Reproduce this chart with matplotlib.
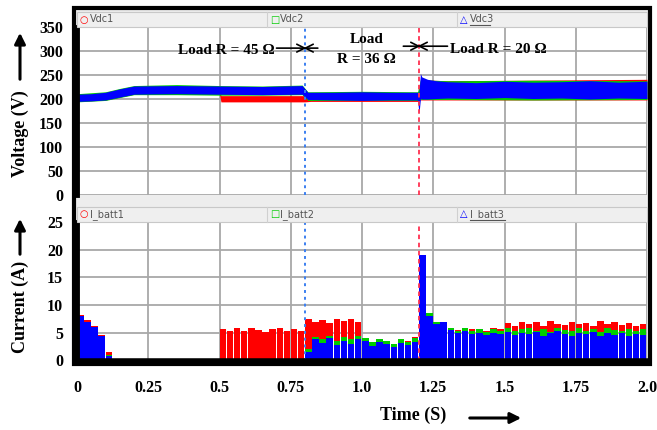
import numpy as np
import matplotlib
matplotlib.use("Agg")
import matplotlib.pyplot as plt
from matplotlib.patches import Rectangle, FancyArrowPatch
from matplotlib.lines import Line2D

# ---- voltage envelopes (V) ----
vdc3_t = [0.0, 0.05, 0.1, 0.15, 0.2, 0.35, 0.5, 0.65, 0.79, 0.81, 0.9, 1.0, 1.1, 1.195,
          1.2, 1.205, 1.21, 1.23, 1.26, 1.3, 1.4, 1.5, 1.6, 1.7, 1.8, 1.9, 2.0]
vdc3_lo = [195, 196, 198, 204, 210, 211, 210, 209, 210, 199, 198, 197, 198, 198,
           170, 201, 200, 200, 201, 202, 201, 203, 201, 202, 200, 202, 201]
vdc3_hi = [210, 211, 214, 221, 227, 228, 227, 226, 228, 214, 214, 215, 214, 214,
           214, 253, 246, 241, 238, 236, 234, 237, 235, 236, 238, 235, 237]

vdc2_t = [0.0, 0.1, 0.15, 0.2, 0.35, 0.5, 0.65, 0.79, 0.81, 1.0, 1.195, 1.205, 1.3, 1.6, 2.0]
vdc2_lo = [194, 197, 203, 209, 209, 208, 208, 209, 197, 197, 197, 199, 199, 198, 199]
vdc2_hi = [211, 215, 222, 228, 230, 228, 227, 229, 215, 216, 215, 240, 238, 239, 238]

vdc1_t = [0.0, 0.1, 0.2, 0.5, 0.505, 0.8, 0.82, 1.2, 1.205, 1.3, 2.0]
vdc1_lo = [195, 198, 210, 210, 194, 194, 195, 195, 198, 198, 198]
vdc1_hi = [208, 212, 225, 225, 207, 207, 210, 210, 240, 238, 241]

spike_v_t = [0.002, 0.002]
spike_v = [40, 205]

# ---- battery currents (A), one value per 25 ms ----
bin_w = 0.025
i_batt3 = [8.0, 7.0, 6.0, 4.5, 0.8] + [0.15] * 27 + \
    [1.5, 3.8, 3.2, 4.0, 2.8, 3.6, 3.0, 3.8,
     3.5, 2.6, 3.4, 3.0, 2.4, 3.2, 2.8, 3.3,
     19.0, 8.0, 6.5, 7.0,
     5.5, 5.0, 5.3, 4.8, 5.0, 4.6, 5.0, 4.7, 5.1, 4.6, 5.0, 4.8, 5.2, 4.5,
     5.0, 5.4, 4.8, 4.4, 5.0, 4.7, 5.1, 4.5, 4.9, 4.6, 5.0, 4.4, 4.8, 4.6]
i_batt2 = [7.5, 6.5, 5.8, 4.0, 1.0] + [0.3] * 27 + \
    [2.0, 4.3, 3.8, 4.5, 3.5, 4.2, 3.8, 4.5,
     4.0, 3.4, 3.8, 3.5, 3.0, 3.8, 3.4, 4.0,
     9.5, 8.5, 7.0, 6.3,
     5.8, 5.4, 5.9, 5.3, 5.6, 5.2, 5.7, 5.4, 5.8, 5.3, 5.6, 5.9, 5.4, 5.7,
     5.2, 5.8, 5.5, 5.3, 5.9, 5.4, 5.6, 5.2, 5.8, 5.5, 5.3, 5.7, 5.4, 5.6]
i_batt1 = [8.2, 7.3, 6.3, 4.6, 1.6] + [0.2] * 15 + \
    [5.6, 5.3, 5.8, 5.4, 5.9, 5.5, 5.2, 5.7, 5.9, 5.4, 5.6, 5.3,
     7.5, 7.0, 7.3, 6.8, 7.4, 7.1, 7.5, 7.0,
     3.0, 2.8, 3.2, 3.0, 2.9, 3.3, 3.6, 4.2,
     9.8, 8.0, 6.8, 6.0,
     5.8, 5.5, 5.9, 5.6, 5.7, 5.4, 5.8, 5.6,
     6.8, 6.3, 7.0, 6.5, 6.9, 6.2, 7.2, 6.6, 6.4, 7.0,
     6.5, 6.8, 6.3, 7.1, 6.6, 6.9, 6.4, 6.7, 6.2, 6.5]
spike_i_t = [0.003, 0.003]
spike_i = [0, 25]

x_ticks = [0, 0.25, 0.5, 0.75, 1.0, 1.25, 1.5, 1.75, 2.0]
x_labels = ["0", "0.25", "0.5", "0.75", "1.0", "1.25", "1.5", "1.75", "2.0"]
v_ticks = [0, 50, 100, 150, 200, 250, 300, 350]
i_ticks = [0, 5, 10, 15, 20, 25]

RED, GREEN, BLUE = "#ff0000", "#00cc00", "#0000ff"
SERIF = "Liberation Serif"
W, H = 657, 430


def fx(px):
    return px / W


def fy(py):
    return 1 - py / H


def fig_arrow(fig, p0, p1):
    fig.add_artist(FancyArrowPatch((fx(p0[0]), fy(p0[1])), (fx(p1[0]), fy(p1[1])),
                                   transform=fig.transFigure, arrowstyle="-|>",
                                   mutation_scale=16, lw=2.2, color="black"))


fig = plt.figure(figsize=(6.57, 4.30), dpi=100)

# grey scope background with black frame
fig.add_artist(Rectangle((fx(74), fy(364)), fx(650) - fx(74), fy(8) - fy(364),
                         transform=fig.transFigure, facecolor="#ededed",
                         edgecolor="black", lw=3, zorder=0))

ax1 = fig.add_axes([fx(77), fy(195), fx(647) - fx(77), fy(27) - fy(195)])
ax2 = fig.add_axes([fx(77), fy(361), fx(647) - fx(77), fy(222) - fy(361)])

for ax in (ax1, ax2):
    ax.set_xlim(0, 2)
    ax.set_xticks(x_ticks)
    ax.grid(True, color="#a8a8a8", lw=1.3)
    ax.set_axisbelow(True)
    ax.tick_params(length=0, pad=10)
    for s in ("top", "right", "bottom"):
        ax.spines[s].set_visible(False)
    ax.spines["left"].set_linewidth(3.5)

ax1.set_ylim(0, 350)
ax1.set_yticks(v_ticks)
ax1.set_yticklabels([str(v) for v in v_ticks], fontfamily=SERIF, fontweight="bold", fontsize=11.5)
ax1.set_xticklabels([])

ax1.fill_between(vdc1_t, vdc1_lo, vdc1_hi, color=RED, lw=0)
ax1.fill_between(vdc2_t, vdc2_lo, vdc2_hi, color=GREEN, lw=0)
ax1.fill_between(vdc3_t, vdc3_lo, vdc3_hi, color=BLUE, lw=0)
ax1.plot(spike_v_t, spike_v, color=BLUE, lw=1.5)

ax2.set_ylim(-0.1, 25)
ax2.set_yticks(i_ticks)
ax2.set_yticklabels([str(v) for v in i_ticks], fontfamily=SERIF, fontweight="bold", fontsize=11.5)
ax2.set_xticklabels(x_labels, fontfamily=SERIF, fontweight="bold", fontsize=11.5)
ax2.tick_params(axis="x", pad=14)
ax2.spines["bottom"].set_visible(True)
ax2.spines["bottom"].set_linewidth(4)

t_bins = np.arange(len(i_batt1)) * bin_w
ax2.bar(t_bins, i_batt1, width=0.023, align="edge", color=RED, lw=0)
ax2.bar(t_bins, i_batt2, width=0.023, align="edge", color=GREEN, lw=0)
ax2.bar(t_bins, i_batt3, width=0.023, align="edge", color=BLUE, lw=0)
ax2.plot(spike_i_t, spike_i, color=BLUE, lw=1.5)

for ax in (ax1, ax2):
    ax.axvline(0.8, color="#3b7ff0", ls=(0, (1.5, 2)), lw=1.4)
    ax.axvline(1.2, color="#ff3050", ls=(0, (2.5, 2)), lw=1.3)

# load change annotations
ann = dict(fontfamily=SERIF, fontweight="bold", fontsize=11)
ap = dict(arrowstyle="->", lw=1.2, color="black", shrinkA=0, shrinkB=0, mutation_scale=14)
ax1.text(0.695, 302, "Load R = 45 Ω", ha="right", va="center", **ann)
ax1.annotate("", xy=(0.805, 306), xytext=(0.70, 306), arrowprops=ap)
ax1.annotate("", xy=(0.795, 306), xytext=(0.845, 306), arrowprops=ap)
ax1.text(1.017, 324, "Load", ha="center", va="center", **ann)
ax1.text(1.017, 283, "R = 36 Ω", ha="center", va="center", **ann)
ax1.annotate("", xy=(1.205, 310), xytext=(1.145, 310), arrowprops=ap)
ax1.annotate("", xy=(1.195, 310), xytext=(1.30, 310), arrowprops=ap)
ax1.text(1.31, 304, "Load R = 20 Ω", ha="left", va="center", **ann)

# scope header strips
for top in (12, 207):
    fig.add_artist(Rectangle((fx(77), fy(top + 15)), fx(647) - fx(77), fy(top) - fy(top + 15),
                             transform=fig.transFigure, facecolor="#efefef",
                             edgecolor="#c8c8c8", lw=0.8, zorder=1))
    for sx in (267, 457):
        fig.add_artist(Line2D([fx(sx), fx(sx)], [fy(top + 15), fy(top)],
                              transform=fig.transFigure, color="#d0d0d0", lw=0.8))

headers = [(12, ["Vdc1", "Vdc2", "Vdc3"]), (207, ["I_batt1", "I_batt2", "I_batt3"])]
marks = [("○", RED, 80), ("□", GREEN, 270), ("△", BLUE, 460)]
for top, names in headers:
    yc = fy(top + 7.5)
    for (sym, col, px), name in zip(marks, names):
        fig.text(fx(px), yc, sym, color=col, fontsize=7, va="center", fontweight="bold")
        fig.text(fx(px + 10), yc, name, color="#555555", fontsize=7, va="center")
    fig.add_artist(Line2D([fx(470), fx(470 + len(names[2]) * 5.0)], [fy(top + 13), fy(top + 13)],
                          transform=fig.transFigure, color="#555555", lw=0.8))

# axis titles with arrows
lab = dict(fontfamily=SERIF, fontweight="bold", fontsize=13)
fig.text(fx(20), fy(134), "Voltage (V)", rotation=90, ha="center", va="center", **lab)
fig_arrow(fig, (20, 82), (20, 30))
fig.text(fx(20), fy(307), "Current (A)", rotation=90, ha="center", va="center", **lab)
fig_arrow(fig, (20, 257), (20, 216))
fig.text(fx(413), fy(415), "Time (S)", ha="center", va="center", **lab)
fig_arrow(fig, (467, 418), (524, 418))

fig.savefig("out.png", dpi=100)
